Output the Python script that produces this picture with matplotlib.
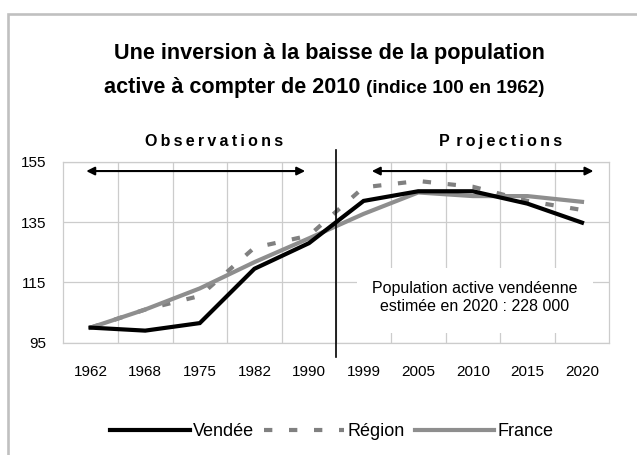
import matplotlib
matplotlib.use('Agg')
import matplotlib.pyplot as plt
from matplotlib.patches import Rectangle
from matplotlib.lines import Line2D

years = ['1962', '1968', '1975', '1982', '1990', '1999', '2005', '2010', '2015', '2020']
vendee = [100, 99, 101.5, 119.5, 128, 142, 145.2, 145.2, 141.1, 134.8]
region = [100, 106, 110.5, 126.5, 130.5, 146.5, 148.6, 146.7, 142, 139]
france = [100, 106, 113, 121.7, 129.6, 137.7, 144.8, 143.6, 143.6, 141.7]
yticks = [95, 115, 135, 155]

plt.rcParams['font.family'] = ['Liberation Sans', 'DejaVu Sans']

W, H = 637, 455
fig = plt.figure(figsize=(W / 100, H / 100), dpi=100)

def fx(px):
    return px / W

def fy(py):
    return 1 - py / H

# outer frame of the original chart (cropped on right/bottom)
fig.patches.append(Rectangle((fx(8.3), -0.1), 1.2, fy(13.5) + 0.1,
                             transform=fig.transFigure, fill=False,
                             edgecolor='#c0c0c0', lw=1.9))

ax = fig.add_axes([fx(63.3), fy(342.7), fx(546), 181 / H])
x = list(range(len(years)))

ax.set_xlim(-0.5, 9.5)
ax.set_ylim(95, 155)
ax.set_yticks(yticks)
ax.set_xticks(x)
ax.set_xticklabels(years)
ax.set_xticks([i + 0.5 for i in x[:-1]], minor=True)
ax.grid(True, which='minor', axis='x', color='#cccccc', lw=0.9)
ax.grid(True, which='major', axis='y', color='#cccccc', lw=0.9)
ax.set_axisbelow(True)
for s in ax.spines.values():
    s.set_color('#cccccc')
    s.set_linewidth(0.9)
ax.tick_params(which='both', length=0)
ax.tick_params(axis='x', pad=16, labelsize=11)
ax.tick_params(axis='y', pad=12, labelsize=11)

dash = (2.0, 4.0)
ax.plot(x, vendee, color='black', lw=3, solid_joinstyle='miter', zorder=4)
ax.plot(x, region, color='#808080', lw=3, dashes=dash, zorder=3)
ax.plot(x, france, color='#8e8e8e', lw=3, zorder=3)

# separation observations / projections
ax.plot([4.5, 4.5], [90.3, 158.9], color='black', lw=1.2, clip_on=False, zorder=5)

# arrows
ax.annotate('', xy=(3.93, 151.9), xytext=(-0.08, 151.9),
            arrowprops=dict(arrowstyle='<|-|>', color='black', lw=1.5,
                            mutation_scale=12, shrinkA=0, shrinkB=0))
ax.annotate('', xy=(9.21, 151.9), xytext=(5.15, 151.9),
            arrowprops=dict(arrowstyle='<|-|>', color='black', lw=1.5,
                            mutation_scale=12, shrinkA=0, shrinkB=0))

ts = '\u2009'
ax.text(2.26, 161.7, ts.join('Observations'), ha='center', va='center',
        fontsize=11.5, fontweight='bold', clip_on=False)
ax.text(7.5, 161.7, 'P' + ts + ts + ts.join('rojections'), ha='center', va='center',
        fontsize=11.5, fontweight='bold', clip_on=False)

# white box with note
ax.add_patch(Rectangle((4.88, 98.3), 4.33, 21.5, facecolor='white',
                       edgecolor='none', zorder=1.5))
ax.text(7.04, 110, 'Population active vendéenne\nestimée en 2020 : 228 000',
        ha='center', va='center', fontsize=11.5, linespacing=1.3, zorder=6)

# title
fig.text(fx(329.3), fy(59), 'Une inversion à la baisse de la population',
         ha='center', va='baseline', fontsize=15.6, fontweight='bold')
fig.text(fx(360.3), fy(93.3), 'active à compter de 2010',
         ha='right', va='baseline', fontsize=15.6, fontweight='bold')
fig.text(fx(366.3), fy(93.3), '(indice 100 en 1962)',
         ha='left', va='baseline', fontsize=13.6, fontweight='bold')

handles = [
    Line2D([], [], color='black', lw=3),
    Line2D([], [], color='#808080', lw=3, dashes=dash),
    Line2D([], [], color='#8e8e8e', lw=3),
]
fig.legend(handles, ['Vendée', 'Région', 'France'], ncol=3, frameon=False,
           loc='center', bbox_to_anchor=(fx(332), fy(432)), fontsize=13,
           handlelength=4.4, handletextpad=0.2, columnspacing=0.55)

fig.savefig('out.png', dpi=100)
